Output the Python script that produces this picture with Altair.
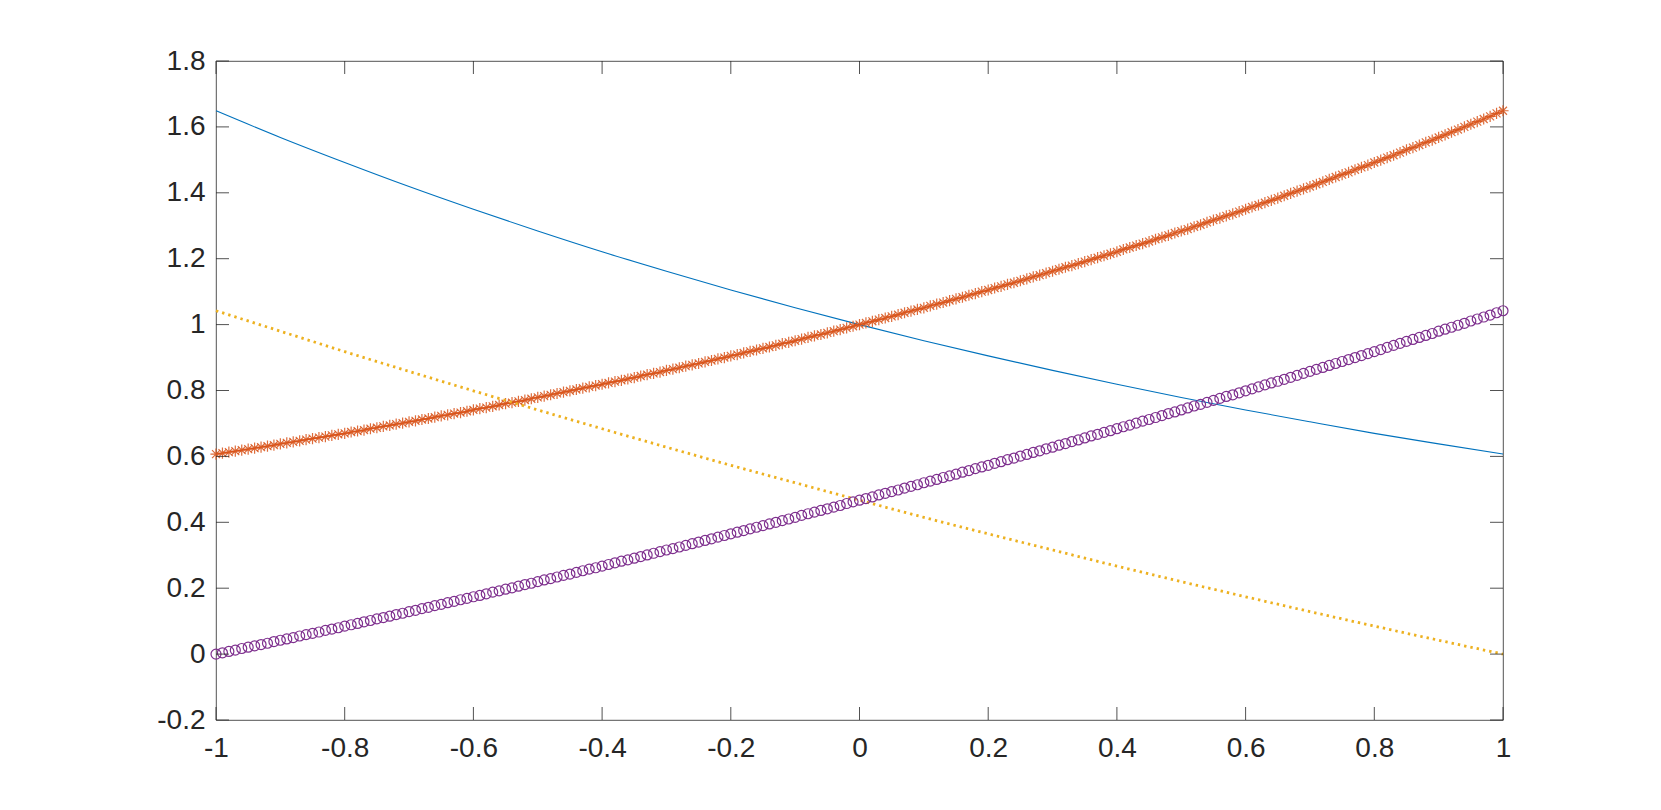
import altair as alt
import pandas as pd

# Sampling grid shared by the marker series (x from -1 to 1)
x_values = [
    -1.00, -0.99, -0.98, -0.97, -0.96, -0.95, -0.94, -0.93, -0.92, -0.91,
    -0.90, -0.89, -0.88, -0.87, -0.86, -0.85, -0.84, -0.83, -0.82, -0.81,
    -0.80, -0.79, -0.78, -0.77, -0.76, -0.75, -0.74, -0.73, -0.72, -0.71,
    -0.70, -0.69, -0.68, -0.67, -0.66, -0.65, -0.64, -0.63, -0.62, -0.61,
    -0.60, -0.59, -0.58, -0.57, -0.56, -0.55, -0.54, -0.53, -0.52, -0.51,
    -0.50, -0.49, -0.48, -0.47, -0.46, -0.45, -0.44, -0.43, -0.42, -0.41,
    -0.40, -0.39, -0.38, -0.37, -0.36, -0.35, -0.34, -0.33, -0.32, -0.31,
    -0.30, -0.29, -0.28, -0.27, -0.26, -0.25, -0.24, -0.23, -0.22, -0.21,
    -0.20, -0.19, -0.18, -0.17, -0.16, -0.15, -0.14, -0.13, -0.12, -0.11,
    -0.10, -0.09, -0.08, -0.07, -0.06, -0.05, -0.04, -0.03, -0.02, -0.01,
    0.00, 0.01, 0.02, 0.03, 0.04, 0.05, 0.06, 0.07, 0.08, 0.09,
    0.10, 0.11, 0.12, 0.13, 0.14, 0.15, 0.16, 0.17, 0.18, 0.19,
    0.20, 0.21, 0.22, 0.23, 0.24, 0.25, 0.26, 0.27, 0.28, 0.29,
    0.30, 0.31, 0.32, 0.33, 0.34, 0.35, 0.36, 0.37, 0.38, 0.39,
    0.40, 0.41, 0.42, 0.43, 0.44, 0.45, 0.46, 0.47, 0.48, 0.49,
    0.50, 0.51, 0.52, 0.53, 0.54, 0.55, 0.56, 0.57, 0.58, 0.59,
    0.60, 0.61, 0.62, 0.63, 0.64, 0.65, 0.66, 0.67, 0.68, 0.69,
    0.70, 0.71, 0.72, 0.73, 0.74, 0.75, 0.76, 0.77, 0.78, 0.79,
    0.80, 0.81, 0.82, 0.83, 0.84, 0.85, 0.86, 0.87, 0.88, 0.89,
    0.90, 0.91, 0.92, 0.93, 0.94, 0.95, 0.96, 0.97, 0.98, 0.99,
    1.00,
]

# Orange series (solid line with asterisk markers)
orange_values = [
    0.607, 0.610, 0.613, 0.616, 0.619, 0.622, 0.625, 0.628, 0.631, 0.634,
    0.638, 0.641, 0.644, 0.647, 0.651, 0.654, 0.657, 0.660, 0.664, 0.667,
    0.670, 0.674, 0.677, 0.680, 0.684, 0.687, 0.691, 0.694, 0.698, 0.701,
    0.705, 0.708, 0.712, 0.715, 0.719, 0.723, 0.726, 0.730, 0.733, 0.737,
    0.741, 0.745, 0.748, 0.752, 0.756, 0.760, 0.763, 0.767, 0.771, 0.775,
    0.779, 0.783, 0.787, 0.791, 0.795, 0.799, 0.803, 0.807, 0.811, 0.815,
    0.819, 0.823, 0.827, 0.831, 0.835, 0.839, 0.844, 0.848, 0.852, 0.856,
    0.861, 0.865, 0.869, 0.874, 0.878, 0.882, 0.887, 0.891, 0.896, 0.900,
    0.905, 0.909, 0.914, 0.919, 0.923, 0.928, 0.932, 0.937, 0.942, 0.946,
    0.951, 0.956, 0.961, 0.966, 0.970, 0.975, 0.980, 0.985, 0.990, 0.995,
    1.000, 1.005, 1.010, 1.015, 1.020, 1.025, 1.030, 1.036, 1.041, 1.046,
    1.051, 1.057, 1.062, 1.067, 1.073, 1.078, 1.083, 1.089, 1.094, 1.100,
    1.105, 1.111, 1.116, 1.122, 1.127, 1.133, 1.139, 1.145, 1.150, 1.156,
    1.162, 1.168, 1.174, 1.179, 1.185, 1.191, 1.197, 1.203, 1.209, 1.215,
    1.221, 1.228, 1.234, 1.240, 1.246, 1.252, 1.259, 1.265, 1.271, 1.278,
    1.284, 1.290, 1.297, 1.303, 1.310, 1.317, 1.323, 1.330, 1.336, 1.343,
    1.350, 1.357, 1.363, 1.370, 1.377, 1.384, 1.391, 1.398, 1.405, 1.412,
    1.419, 1.426, 1.433, 1.441, 1.448, 1.455, 1.462, 1.470, 1.477, 1.484,
    1.492, 1.499, 1.507, 1.514, 1.522, 1.530, 1.537, 1.545, 1.553, 1.560,
    1.568, 1.576, 1.584, 1.592, 1.600, 1.608, 1.616, 1.624, 1.632, 1.641,
    1.649,
]

# Purple series (circle markers)
purple_values = [
    0.000, 0.004, 0.008, 0.012, 0.017, 0.021, 0.025, 0.029, 0.033, 0.038,
    0.042, 0.046, 0.050, 0.055, 0.059, 0.063, 0.067, 0.072, 0.076, 0.080,
    0.085, 0.089, 0.093, 0.098, 0.102, 0.107, 0.111, 0.115, 0.120, 0.124,
    0.129, 0.133, 0.138, 0.142, 0.147, 0.151, 0.156, 0.160, 0.165, 0.169,
    0.174, 0.178, 0.183, 0.188, 0.192, 0.197, 0.201, 0.206, 0.211, 0.215,
    0.220, 0.225, 0.229, 0.234, 0.239, 0.243, 0.248, 0.253, 0.258, 0.262,
    0.267, 0.272, 0.277, 0.282, 0.286, 0.291, 0.296, 0.301, 0.306, 0.311,
    0.316, 0.320, 0.325, 0.330, 0.335, 0.340, 0.345, 0.350, 0.355, 0.360,
    0.365, 0.370, 0.375, 0.380, 0.385, 0.390, 0.395, 0.400, 0.405, 0.410,
    0.415, 0.421, 0.426, 0.431, 0.436, 0.441, 0.446, 0.451, 0.457, 0.462,
    0.467, 0.472, 0.477, 0.483, 0.488, 0.493, 0.498, 0.504, 0.509, 0.514,
    0.520, 0.525, 0.530, 0.536, 0.541, 0.546, 0.552, 0.557, 0.563, 0.568,
    0.573, 0.579, 0.584, 0.590, 0.595, 0.601, 0.606, 0.612, 0.617, 0.623,
    0.628, 0.634, 0.639, 0.645, 0.650, 0.656, 0.662, 0.667, 0.673, 0.678,
    0.684, 0.690, 0.695, 0.701, 0.707, 0.712, 0.718, 0.724, 0.730, 0.735,
    0.741, 0.747, 0.753, 0.758, 0.764, 0.770, 0.776, 0.782, 0.787, 0.793,
    0.799, 0.805, 0.811, 0.817, 0.823, 0.828, 0.834, 0.840, 0.846, 0.852,
    0.858, 0.864, 0.870, 0.876, 0.882, 0.888, 0.894, 0.900, 0.906, 0.912,
    0.918, 0.924, 0.931, 0.937, 0.943, 0.949, 0.955, 0.961, 0.967, 0.973,
    0.980, 0.986, 0.992, 0.998, 1.004, 1.011, 1.017, 1.023, 1.029, 1.036,
    1.042,
]

# Coarser grid for the plain line series
x_coarse = [-1.0, -0.9, -0.8, -0.7, -0.6, -0.5, -0.4, -0.3, -0.2, -0.1, 0.0,
            0.1, 0.2, 0.3, 0.4, 0.5, 0.6, 0.7, 0.8, 0.9, 1.0]
blue_values = [1.649, 1.568, 1.492, 1.419, 1.350, 1.284, 1.221, 1.162, 1.105, 1.051, 1.000,
               0.951, 0.905, 0.861, 0.819, 0.779, 0.741, 0.705, 0.670, 0.638, 0.607]
yellow_values = [1.042, 0.980, 0.918, 0.858, 0.799, 0.741, 0.684, 0.628, 0.573, 0.520, 0.467,
                 0.415, 0.365, 0.316, 0.267, 0.220, 0.174, 0.129, 0.085, 0.042, 0.000]

x_ticks = [-1, -0.8, -0.6, -0.4, -0.2, 0, 0.2, 0.4, 0.6, 0.8, 1]
y_ticks = [-0.2, 0, 0.2, 0.4, 0.6, 0.8, 1, 1.2, 1.4, 1.6, 1.8]

W, H = 1287, 659
TICK_LEN = 13
AX_COLOR = "#262626"
FONT = "Liberation Sans"
LABEL_SIZE = 28

dense = pd.DataFrame({"x": x_values, "orange": orange_values, "purple": purple_values})
coarse = pd.DataFrame({"x": x_coarse, "blue": blue_values, "yellow": yellow_values})
xt = pd.DataFrame({"v": x_ticks})
yt = pd.DataFrame({"v": y_ticks})

xscale = alt.Scale(domain=[-1, 1], nice=False, zero=False)
yscale = alt.Scale(domain=[-0.2, 1.8], nice=False, zero=False)

x_axis = alt.Axis(values=x_ticks, labelExpr="toString(datum.value)", grid=False,
                  domain=False, ticks=False, tickSize=0, labelPadding=14,
                  labelFontSize=LABEL_SIZE, labelFont=FONT, labelColor=AX_COLOR,
                  title=None, labelFlush=False, labelOverlap=False)
y_axis = alt.Axis(values=y_ticks, labelExpr="toString(datum.value)", grid=False,
                  domain=False, ticks=False, tickSize=0, labelPadding=11,
                  labelFontSize=LABEL_SIZE, labelFont=FONT, labelColor=AX_COLOR,
                  title=None, labelFlush=False, labelOverlap=False)

X = alt.X("x:Q", scale=xscale, axis=x_axis)

blue = alt.Chart(coarse).mark_line(color="#0072BD", strokeWidth=1.1, interpolate="monotone").encode(
    x=X, y=alt.Y("blue:Q", scale=yscale, axis=y_axis))

orange_line = alt.Chart(dense).mark_line(color="#D95319", strokeWidth=1.3).encode(
    x=alt.X("x:Q", scale=xscale), y=alt.Y("orange:Q", scale=yscale))
asterisk = "M-1,0L1,0M0,-1L0,1M-0.71,-0.71L0.71,0.71M-0.71,0.71L0.71,-0.71"
orange_pts = alt.Chart(dense).mark_point(shape=asterisk, filled=False, color="#D95319",
                                         size=125, strokeWidth=1.2, opacity=0.85).encode(
    x=alt.X("x:Q", scale=xscale), y=alt.Y("orange:Q", scale=yscale))

yellow = alt.Chart(coarse).mark_line(color="#EDB120", strokeWidth=2.8, strokeDash=[2.4, 4.0],
                                     interpolate="monotone").encode(
    x=alt.X("x:Q", scale=xscale), y=alt.Y("yellow:Q", scale=yscale))

purple = alt.Chart(dense).mark_point(shape="circle", filled=False, color="#7E2F8E",
                                     size=100, strokeWidth=1.2, opacity=1).encode(
    x=alt.X("x:Q", scale=xscale), y=alt.Y("purple:Q", scale=yscale))

tick_style = dict(color=AX_COLOR, strokeWidth=0.8)
xt_bottom = alt.Chart(xt).mark_rule(**tick_style).encode(
    x=alt.X("v:Q", scale=xscale), y=alt.value(H), y2=alt.value(H - TICK_LEN))
xt_top = alt.Chart(xt).mark_rule(**tick_style).encode(
    x=alt.X("v:Q", scale=xscale), y=alt.value(0), y2=alt.value(TICK_LEN))
yt_left = alt.Chart(yt).mark_rule(**tick_style).encode(
    y=alt.Y("v:Q", scale=yscale), x=alt.value(0), x2=alt.value(TICK_LEN))
yt_right = alt.Chart(yt).mark_rule(**tick_style).encode(
    y=alt.Y("v:Q", scale=yscale), x=alt.value(W), x2=alt.value(W - TICK_LEN))

chart = alt.layer(
    blue, orange_line, orange_pts, yellow, purple,
    xt_bottom, xt_top, yt_left, yt_right,
).properties(
    width=W, height=H,
    autosize=alt.AutoSizeParams(type="none"),
    padding={"left": 208, "top": 53, "right": 150, "bottom": 80},
    background="white",
).configure_view(
    stroke=AX_COLOR, strokeWidth=0.8,
)

chart.save("out.html", embed_options={"renderer": "svg", "actions": False})
